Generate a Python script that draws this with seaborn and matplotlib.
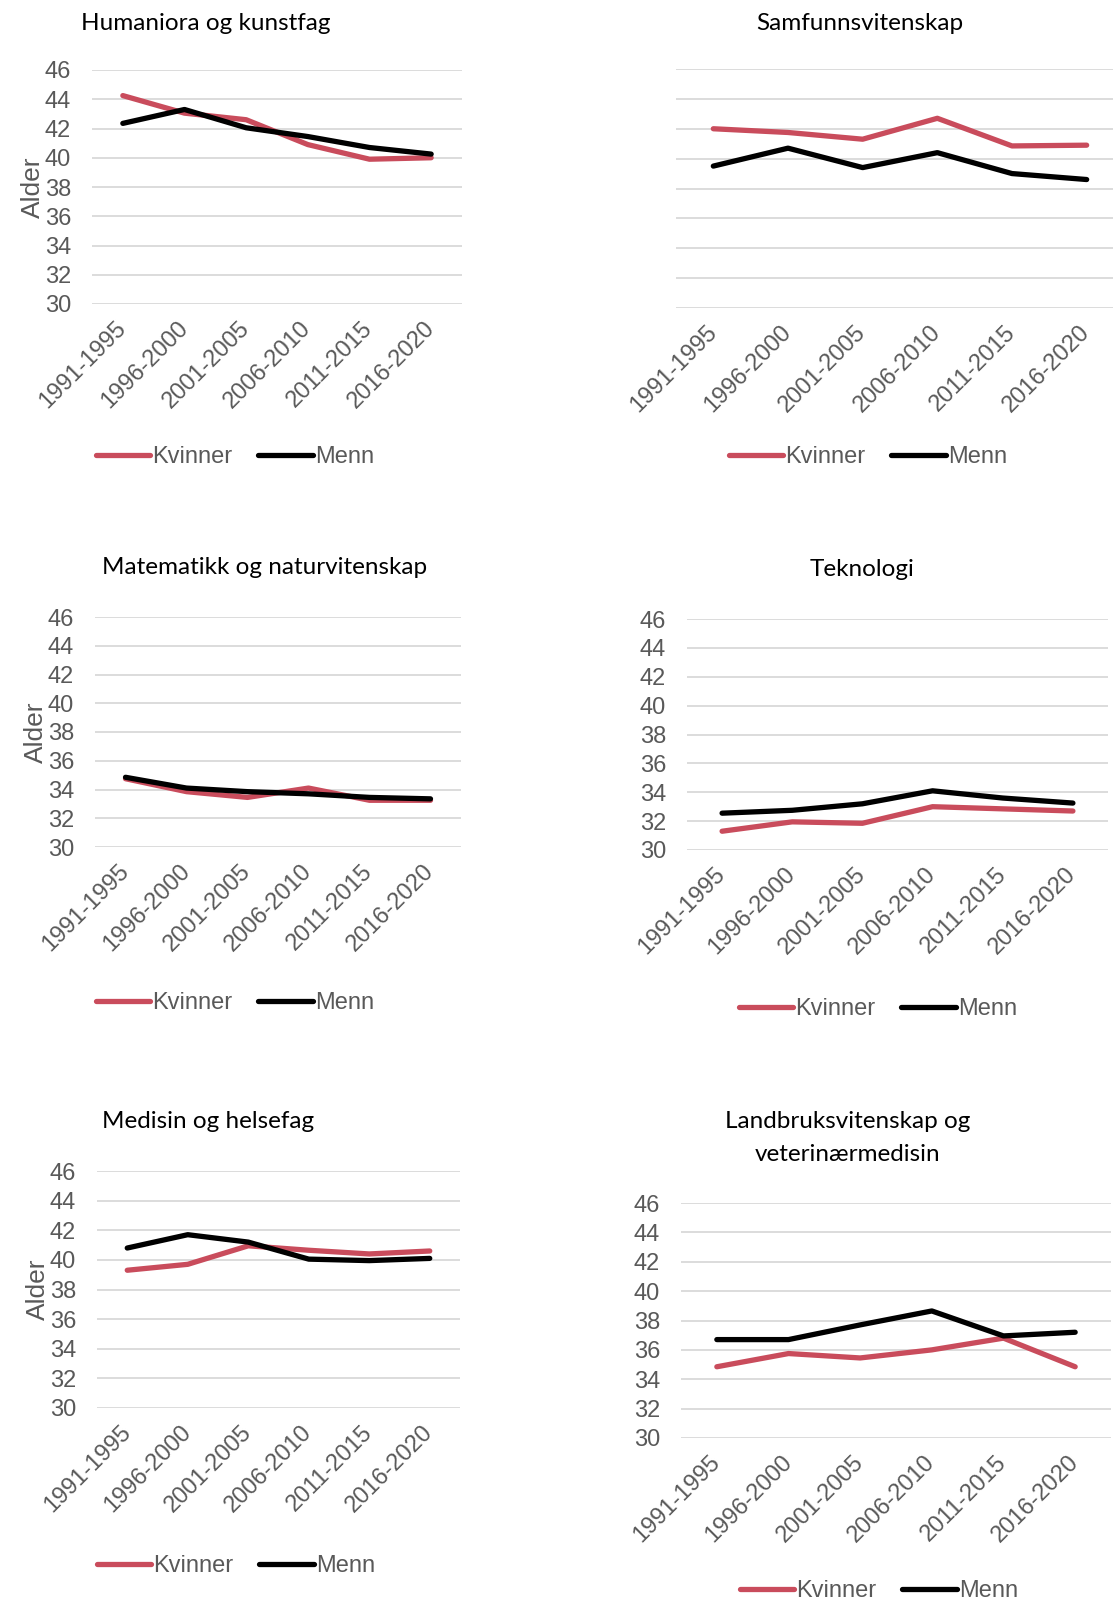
import matplotlib
matplotlib.use("Agg")
from matplotlib import pyplot as plt
import pandas as pd
import seaborn as sns

# ==============================================================================
# DATA
# ==============================================================================
periods = ["1991-1995", "1996-2000", "2001-2005", "2006-2010", "2011-2015", "2016-2020"]

hum_kvinner = [44.25, 43.05, 42.6, 40.9, 39.9, 40.0]
hum_menn = [42.35, 43.3, 42.05, 41.45, 40.7, 40.25]

sam_kvinner = [42.0, 41.75, 41.3, 42.7, 40.85, 40.9]
sam_menn = [39.5, 40.7, 39.4, 40.4, 39.0, 38.6]

mat_kvinner = [34.75, 33.85, 33.45, 34.1, 33.25, 33.25]
mat_menn = [34.85, 34.1, 33.85, 33.7, 33.45, 33.35]

tek_kvinner = [31.3, 31.95, 31.85, 33.0, 32.85, 32.7]
tek_menn = [32.55, 32.75, 33.2, 34.1, 33.6, 33.25]

med_kvinner = [39.3, 39.7, 40.95, 40.65, 40.4, 40.6]
med_menn = [40.8, 41.7, 41.2, 40.05, 39.95, 40.1]

lan_kvinner = [34.85, 35.75, 35.45, 36.0, 36.8, 34.85]
lan_menn = [36.7, 36.7, 37.7, 38.65, 36.95, 37.2]

titles = ["Humaniora og kunstfag", "Samfunnsvitenskap",
          "Matematikk og naturvitenskap", "Teknologi",
          "Medisin og helsefag", "Landbruksvitenskap og\nveterinærmedisin"]
y_ticks = [30, 32, 34, 36, 38, 40, 42, 44, 46]

# ==============================================================================
# LAYOUT (pixel positions of the reference)
# ==============================================================================
W, H = 1113, 1603
RED = "#C94C5C"
GREY = "#595959"
SANS = ["Liberation Sans", "DejaVu Sans"]

panels = [
    # series, axes box (l, t, r, b), title (x, y), legend (x, y), show y ticks, ylabel
    ((hum_kvinner, hum_menn), (92, 70, 462, 304), (206, 24), (235, 457), True, True),
    ((sam_kvinner, sam_menn), (676, 69, 1124, 308), (860, 23), (868, 457), False, False),
    ((mat_kvinner, mat_menn), (95, 617, 461, 847), (265, 568), (235, 1003), True, True),
    ((tek_kvinner, tek_menn), (687, 619, 1108, 850), (862, 570), (878, 1009), True, False),
    ((med_kvinner, med_menn), (97, 1171, 460, 1408), (208, 1122), (236, 1566), True, True),
    ((lan_kvinner, lan_menn), (681, 1203, 1111, 1438), (848, 1138), (879, 1591), True, False),
]


def px_box(l, t, r, b):
    return [l / W, 1 - b / H, (r - l) / W, (b - t) / H]


sns.set_style("white")
plt.rcParams["font.family"] = SANS

fig = plt.figure(figsize=(W / 100, H / 100), dpi=100)

for (kv, me), box, tpos, lpos, show_y, ylab in panels:
    ax = fig.add_axes(px_box(*box))
    df = pd.DataFrame({
        "Periode": periods * 2,
        "Alder": kv + me,
        "Kjønn": ["Kvinner"] * 6 + ["Menn"] * 6,
    })
    sns.lineplot(data=df, x="Periode", y="Alder", hue="Kjønn", sort=False,
                 palette={"Kvinner": RED, "Menn": "#000000"},
                 linewidth=3.8, ax=ax, legend=False, zorder=3)
    for ln in ax.get_lines():
        ln.set_solid_capstyle("round")
        ln.set_solid_joinstyle("round")

    ax.set_xlim(-0.5, 5.5)
    ax.set_ylim(30, 46)
    ax.set_yticks(y_ticks)
    ax.yaxis.grid(True, color="#D9D9D9", linewidth=1.3)
    ax.set_axisbelow(True)
    for s in ax.spines.values():
        s.set_visible(False)
    ax.tick_params(axis="both", length=0, labelsize=17, labelcolor=GREY)
    ax.tick_params(axis="y", pad=15)
    ax.tick_params(axis="x", pad=15)
    for lab in ax.get_xticklabels() + ax.get_yticklabels():
        lab.set_family(SANS)
    plt.setp(ax.get_xticklabels(), rotation=45, ha="right", va="center",
             rotation_mode="anchor")
    if not show_y:
        ax.set_yticklabels([])
    ax.set_xlabel("")
    if ylab:
        ax.set_ylabel("Alder", fontsize=19, color=GREY, labelpad=0, family=SANS)
    else:
        ax.set_ylabel("")

    handles = ax.get_lines()[:2]
    ax.legend(handles, ["Kvinner", "Menn"], loc="center", ncol=2,
              bbox_to_anchor=(lpos[0] / W, 1 - lpos[1] / H),
              bbox_transform=fig.transFigure, frameon=False,
              prop={"family": SANS, "size": 17}, handlelength=2.3,
              handletextpad=0.1, columnspacing=1.1, labelcolor=GREY)

for title, (_, _, tpos, _, _, _) in zip(titles, panels):
    fig.text(tpos[0] / W, 1 - tpos[1] / H, title, ha="center", va="center",
             fontsize=17.5, color="black", family=["Lato", "DejaVu Sans"],
             linespacing=1.75)

fig.savefig("out.png", dpi=100, facecolor="white")
